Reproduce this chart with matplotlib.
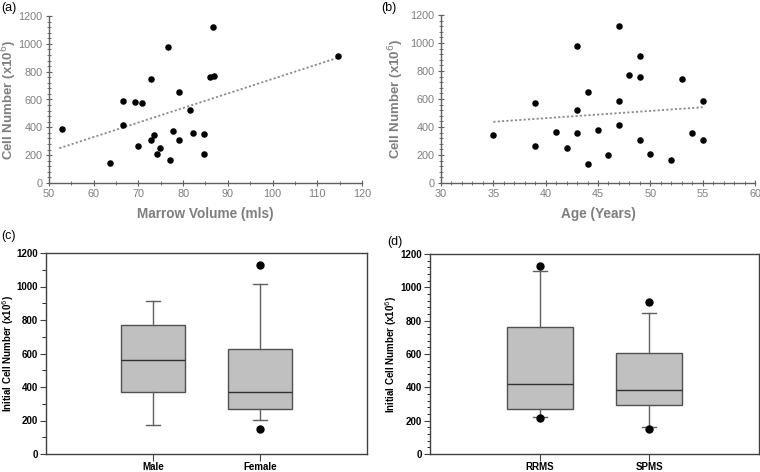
import numpy as np
import matplotlib
matplotlib.use('Agg')
import matplotlib.pyplot as plt
from matplotlib.ticker import MultipleLocator

plt.rcParams['font.family'] = ['Liberation Sans', 'DejaVu Sans']

# (a) marrow volume vs cell number
vol = [52.8, 63.7, 66.6, 66.6, 69.3, 70.7, 69.9, 72.7, 72.7, 73.4, 74.2, 74.9, 76.6,
       77.0, 77.7, 79.0, 79.0, 81.6, 82.2, 84.6, 84.6, 86.1, 86.9, 86.6, 114.6]
cells_a = [385, 146, 586, 416, 581, 574, 265, 748, 306, 342, 210, 253, 980,
           163, 373, 653, 308, 521, 361, 354, 210, 760, 770, 1124, 911]

# (b) age vs cell number
age = [35, 39, 39, 41, 42, 43, 43, 43, 44, 44, 45, 46, 47, 47, 47, 48, 49, 49, 49,
       50, 52, 53, 54, 55, 55]
cells_b = [340, 264, 570, 364, 252, 981, 520, 359, 649, 138, 382, 202, 1121, 584, 411,
           774, 905, 755, 304, 209, 162, 746, 354, 584, 304]

# trend lines: x range, y at ends
trend_a_x = [52.3, 114.6]
trend_a_y = [250, 900]
trend_b_x = [35, 55]
trend_b_y = [437, 541]

# (c) and (d) box summaries: whislo, q1, med, q3, whishi, outliers
sex = ['Male', 'Female']
sex_stats = [(173, 373, 560, 773, 913, []),
             (203, 269, 369, 626, 1017, [1128, 151])]
ms = ['RRMS', 'SPMS']
ms_stats = [(225, 273, 423, 764, 1100, [1130, 215]),
            (164, 295, 383, 609, 848, [914, 152])]

grey = '#7f7f7f'
fig = plt.figure(figsize=(7.6, 4.72), dpi=100)
W, H = 760, 472


def px_axes(l, t, r, b):
    return fig.add_axes([l / W, 1 - b / H, (r - l) / W, (b - t) / H])


def set_labels(ax, l, t, r, b, ylab_right, xlab_top=None):
    # place axis titles at pixel positions (ylabel anchored at its right edge)
    ax.yaxis.set_label_coords((ylab_right - l) / (r - l), 0.5)
    if xlab_top is not None:
        ax.xaxis.set_label_coords(0.5, -(xlab_top - b) / (b - t))


def scatter_panel(ax, x, y, tx, ty, xlim, xmaj, xmin, xlabel):
    ax.scatter(x, y, s=22, color='black', zorder=3, linewidths=0)
    ax.plot(tx, ty, linestyle=(0, (1.2, 1.2)), color='#8c8c8c', linewidth=1.3)
    ax.set_xlim(*xlim)
    ax.set_ylim(0, 1200)
    ax.xaxis.set_major_locator(MultipleLocator(xmaj))
    ax.xaxis.set_minor_locator(MultipleLocator(xmin))
    ax.yaxis.set_major_locator(MultipleLocator(200))
    ax.yaxis.set_minor_locator(MultipleLocator(40))
    for s in ['top', 'right']:
        ax.spines[s].set_visible(False)
    for s in ['left', 'bottom']:
        ax.spines[s].set_color('#606060')
        ax.spines[s].set_linewidth(1.0)
    ax.tick_params(which='major', direction='inout', length=5, color='#606060',
                   labelcolor=grey, labelsize=7.8, pad=2)
    ax.tick_params(which='minor', direction='inout', length=3, color='#606060')
    ax.set_xlabel(xlabel, color=grey, fontsize=9.8, fontweight='bold')
    ax.set_ylabel('Cell Number (x10$^{6}$)', color=grey, fontsize=9.5, fontweight='bold')


pa = (49, 16, 362, 183)
ax_a = px_axes(*pa)
scatter_panel(ax_a, vol, cells_a, trend_a_x, trend_a_y, (50, 120), 10, 5, 'Marrow Volume (mls)')
set_labels(ax_a, *pa, ylab_right=19, xlab_top=207)

pb = (441, 15, 755, 183)
ax_b = px_axes(*pb)
scatter_panel(ax_b, age, cells_b, trend_b_x, trend_b_y, (30, 60), 5, 1, 'Age (Years)')
set_labels(ax_b, *pb, ylab_right=406, xlab_top=207)


def box_panel(ax, names, stats):
    bstats = []
    for n, (lo, q1, med, q3, hi, fl) in zip(names, stats):
        bstats.append(dict(label=n, whislo=lo, q1=q1, med=med, q3=q3, whishi=hi, fliers=fl))
    ax.bxp(bstats, positions=[1, 2], widths=0.6, patch_artist=True,
           boxprops=dict(facecolor='#c0c0c0', edgecolor='#505050', linewidth=1.0),
           medianprops=dict(color='#303030', linewidth=1.0),
           whiskerprops=dict(color='#606060', linewidth=1.0),
           capprops=dict(color='#606060', linewidth=1.0),
           capwidths=0.13,
           flierprops=dict(marker='o', markerfacecolor='black', markeredgecolor='black',
                           markersize=5))
    ax.set_xlim(0, 3)
    ax.set_ylim(0, 1200)
    ax.yaxis.set_major_locator(MultipleLocator(200))
    for s in ax.spines.values():
        s.set_color('#404040')
        s.set_linewidth(1.0)
    ax.tick_params(which='major', direction='out', length=4, labelsize=7, color='#404040', pad=2)
    ax.tick_params(axis='x', length=5, pad=1)
    for lab in ax.get_xticklabels() + ax.get_yticklabels():
        lab.set_fontweight('bold')
    ax.set_ylabel('Initial Cell Number (x10$^{6}$)', fontsize=7, fontweight='bold')


pc = (46, 253, 367, 454)
ax_c = px_axes(*pc)
box_panel(ax_c, sex, sex_stats)
ax_c.yaxis.set_minor_locator(MultipleLocator(100))
ax_c.tick_params(which='minor', direction='out', length=3)
set_labels(ax_c, *pc, ylab_right=16)

pd_ = (430, 254, 759, 454)
ax_d = px_axes(*pd_)
box_panel(ax_d, ms, ms_stats)
ax_d.yaxis.set_minor_locator(MultipleLocator(40))
ax_d.tick_params(which='minor', direction='out', length=2.5)
set_labels(ax_d, *pd_, ylab_right=399)

fig.text(1 / W, 1 - 8 / H, '(a)', fontsize=9, va='center')
fig.text(381 / W, 1 - 8 / H, '(b)', fontsize=9, va='center')
fig.text(1 / W, 1 - 236 / H, '(c)', fontsize=9, va='center')
fig.text(387 / W, 1 - 242 / H, '(d)', fontsize=9, va='center')

fig.savefig('out.png', dpi=100)
